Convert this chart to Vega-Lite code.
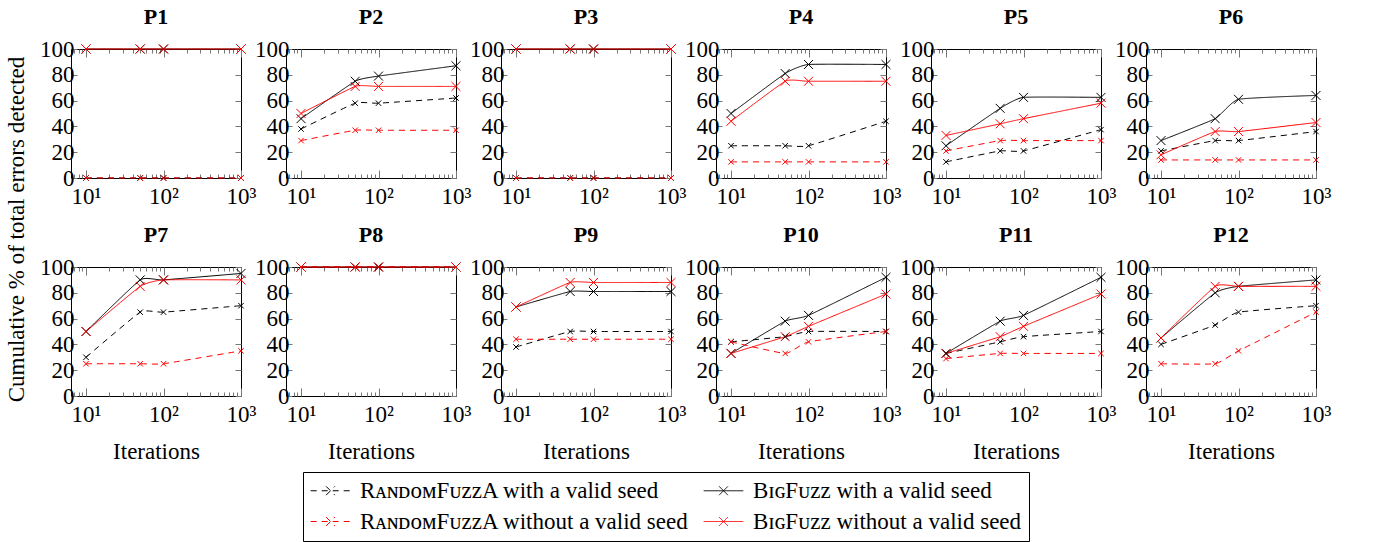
{
  "$schema": "https://vega.github.io/schema/vega-lite/v6.json",
  "padding": 5,
  "config": {
    "font": "Liberation Serif",
    "view": {"stroke": "black", "strokeWidth": 1},
    "axis": {"labelFont": "Liberation Serif", "titleFont": "Liberation Serif", "labelFontSize": 23, "titleFontSize": 23, "labelColor": "black", "titleColor": "black", "grid": false, "domain": false, "tickColor": "#777", "titleFontWeight": "normal"},
    "header": {"labelFont": "Liberation Serif", "labelFontSize": 22, "labelFontWeight": "bold", "labelColor": "black", "labelPadding": 9},
    "legend": {"labelFont": "Liberation Serif", "labelFontSize": 23, "labelColor": "black"}
  },
  "datasets": {
    "d": [
      {"p":"P1","it":10,"s":"ra_v","v":0},{"p":"P1","it":50,"s":"ra_v","v":0},{"p":"P1","it":100,"s":"ra_v","v":0},{"p":"P1","it":1000,"s":"ra_v","v":0},
      {"p":"P1","it":10,"s":"bf_v","v":100},{"p":"P1","it":50,"s":"bf_v","v":100},{"p":"P1","it":100,"s":"bf_v","v":100},{"p":"P1","it":1000,"s":"bf_v","v":100},
      {"p":"P1","it":10,"s":"ra_n","v":0},{"p":"P1","it":50,"s":"ra_n","v":0},{"p":"P1","it":100,"s":"ra_n","v":0},{"p":"P1","it":1000,"s":"ra_n","v":0},
      {"p":"P1","it":10,"s":"bf_n","v":100},{"p":"P1","it":50,"s":"bf_n","v":100},{"p":"P1","it":100,"s":"bf_n","v":100},{"p":"P1","it":1000,"s":"bf_n","v":100},

      {"p":"P2","it":10,"s":"ra_v","v":38},{"p":"P2","it":50,"s":"ra_v","v":58},{"p":"P2","it":100,"s":"ra_v","v":58},{"p":"P2","it":1000,"s":"ra_v","v":62},
      {"p":"P2","it":10,"s":"bf_v","v":46},{"p":"P2","it":50,"s":"bf_v","v":75},{"p":"P2","it":100,"s":"bf_v","v":79},{"p":"P2","it":1000,"s":"bf_v","v":87},
      {"p":"P2","it":10,"s":"ra_n","v":29},{"p":"P2","it":50,"s":"ra_n","v":37},{"p":"P2","it":100,"s":"ra_n","v":37},{"p":"P2","it":1000,"s":"ra_n","v":37},
      {"p":"P2","it":10,"s":"bf_n","v":50},{"p":"P2","it":50,"s":"bf_n","v":71},{"p":"P2","it":100,"s":"bf_n","v":71},{"p":"P2","it":1000,"s":"bf_n","v":71},

      {"p":"P3","it":10,"s":"ra_v","v":0},{"p":"P3","it":50,"s":"ra_v","v":0},{"p":"P3","it":100,"s":"ra_v","v":0},{"p":"P3","it":1000,"s":"ra_v","v":0},
      {"p":"P3","it":10,"s":"bf_v","v":100},{"p":"P3","it":50,"s":"bf_v","v":100},{"p":"P3","it":100,"s":"bf_v","v":100},{"p":"P3","it":1000,"s":"bf_v","v":100},
      {"p":"P3","it":10,"s":"ra_n","v":0},{"p":"P3","it":50,"s":"ra_n","v":0},{"p":"P3","it":100,"s":"ra_n","v":0},{"p":"P3","it":1000,"s":"ra_n","v":0},
      {"p":"P3","it":10,"s":"bf_n","v":100},{"p":"P3","it":50,"s":"bf_n","v":100},{"p":"P3","it":100,"s":"bf_n","v":100},{"p":"P3","it":1000,"s":"bf_n","v":100},

      {"p":"P4","it":10,"s":"ra_v","v":25},{"p":"P4","it":50,"s":"ra_v","v":25},{"p":"P4","it":100,"s":"ra_v","v":25},{"p":"P4","it":1000,"s":"ra_v","v":44},
      {"p":"P4","it":10,"s":"bf_v","v":50},{"p":"P4","it":50,"s":"bf_v","v":81},{"p":"P4","it":100,"s":"bf_v","v":88},{"p":"P4","it":1000,"s":"bf_v","v":88},
      {"p":"P4","it":10,"s":"ra_n","v":12.5},{"p":"P4","it":50,"s":"ra_n","v":12.5},{"p":"P4","it":100,"s":"ra_n","v":12.5},{"p":"P4","it":1000,"s":"ra_n","v":12.5},
      {"p":"P4","it":10,"s":"bf_n","v":44},{"p":"P4","it":50,"s":"bf_n","v":75},{"p":"P4","it":100,"s":"bf_n","v":75},{"p":"P4","it":1000,"s":"bf_n","v":75},

      {"p":"P5","it":10,"s":"ra_v","v":12.5},{"p":"P5","it":50,"s":"ra_v","v":21},{"p":"P5","it":100,"s":"ra_v","v":21},{"p":"P5","it":1000,"s":"ra_v","v":37.5},
      {"p":"P5","it":10,"s":"bf_v","v":25},{"p":"P5","it":50,"s":"bf_v","v":54},{"p":"P5","it":100,"s":"bf_v","v":62.5},{"p":"P5","it":1000,"s":"bf_v","v":62.5},
      {"p":"P5","it":10,"s":"ra_n","v":21},{"p":"P5","it":50,"s":"ra_n","v":29},{"p":"P5","it":100,"s":"ra_n","v":29},{"p":"P5","it":1000,"s":"ra_n","v":29},
      {"p":"P5","it":10,"s":"bf_n","v":33},{"p":"P5","it":50,"s":"bf_n","v":42},{"p":"P5","it":100,"s":"bf_n","v":46},{"p":"P5","it":1000,"s":"bf_n","v":58},

      {"p":"P6","it":10,"s":"ra_v","v":21},{"p":"P6","it":50,"s":"ra_v","v":29},{"p":"P6","it":100,"s":"ra_v","v":29},{"p":"P6","it":1000,"s":"ra_v","v":36},
      {"p":"P6","it":10,"s":"bf_v","v":29},{"p":"P6","it":50,"s":"bf_v","v":46},{"p":"P6","it":100,"s":"bf_v","v":61},{"p":"P6","it":1000,"s":"bf_v","v":64},
      {"p":"P6","it":10,"s":"ra_n","v":14},{"p":"P6","it":50,"s":"ra_n","v":14},{"p":"P6","it":100,"s":"ra_n","v":14},{"p":"P6","it":1000,"s":"ra_n","v":14},
      {"p":"P6","it":10,"s":"bf_n","v":18},{"p":"P6","it":50,"s":"bf_n","v":36},{"p":"P6","it":100,"s":"bf_n","v":36},{"p":"P6","it":1000,"s":"bf_n","v":43},

      {"p":"P7","it":10,"s":"ra_v","v":30},{"p":"P7","it":50,"s":"ra_v","v":65},{"p":"P7","it":100,"s":"ra_v","v":65},{"p":"P7","it":1000,"s":"ra_v","v":70},
      {"p":"P7","it":10,"s":"bf_v","v":50},{"p":"P7","it":50,"s":"bf_v","v":90},{"p":"P7","it":100,"s":"bf_v","v":90},{"p":"P7","it":1000,"s":"bf_v","v":95},
      {"p":"P7","it":10,"s":"ra_n","v":25},{"p":"P7","it":50,"s":"ra_n","v":25},{"p":"P7","it":100,"s":"ra_n","v":25},{"p":"P7","it":1000,"s":"ra_n","v":35},
      {"p":"P7","it":10,"s":"bf_n","v":50},{"p":"P7","it":50,"s":"bf_n","v":85},{"p":"P7","it":100,"s":"bf_n","v":90},{"p":"P7","it":1000,"s":"bf_n","v":90},

      {"p":"P8","it":10,"s":"ra_v","v":100},{"p":"P8","it":50,"s":"ra_v","v":100},{"p":"P8","it":100,"s":"ra_v","v":100},{"p":"P8","it":1000,"s":"ra_v","v":100},
      {"p":"P8","it":10,"s":"bf_v","v":100},{"p":"P8","it":50,"s":"bf_v","v":100},{"p":"P8","it":100,"s":"bf_v","v":100},{"p":"P8","it":1000,"s":"bf_v","v":100},
      {"p":"P8","it":10,"s":"ra_n","v":100},{"p":"P8","it":50,"s":"ra_n","v":100},{"p":"P8","it":100,"s":"ra_n","v":100},{"p":"P8","it":1000,"s":"ra_n","v":100},
      {"p":"P8","it":10,"s":"bf_n","v":100},{"p":"P8","it":50,"s":"bf_n","v":100},{"p":"P8","it":100,"s":"bf_n","v":100},{"p":"P8","it":1000,"s":"bf_n","v":100},

      {"p":"P9","it":10,"s":"ra_v","v":38},{"p":"P9","it":50,"s":"ra_v","v":50},{"p":"P9","it":100,"s":"ra_v","v":50},{"p":"P9","it":1000,"s":"ra_v","v":50},
      {"p":"P9","it":10,"s":"bf_v","v":69},{"p":"P9","it":50,"s":"bf_v","v":81},{"p":"P9","it":100,"s":"bf_v","v":81},{"p":"P9","it":1000,"s":"bf_v","v":81},
      {"p":"P9","it":10,"s":"ra_n","v":44},{"p":"P9","it":50,"s":"ra_n","v":44},{"p":"P9","it":100,"s":"ra_n","v":44},{"p":"P9","it":1000,"s":"ra_n","v":44},
      {"p":"P9","it":10,"s":"bf_n","v":69},{"p":"P9","it":50,"s":"bf_n","v":88},{"p":"P9","it":100,"s":"bf_n","v":88},{"p":"P9","it":1000,"s":"bf_n","v":88},

      {"p":"P10","it":10,"s":"ra_v","v":42},{"p":"P10","it":50,"s":"ra_v","v":46},{"p":"P10","it":100,"s":"ra_v","v":50},{"p":"P10","it":1000,"s":"ra_v","v":50},
      {"p":"P10","it":10,"s":"bf_v","v":33},{"p":"P10","it":50,"s":"bf_v","v":58},{"p":"P10","it":100,"s":"bf_v","v":62.5},{"p":"P10","it":1000,"s":"bf_v","v":92},
      {"p":"P10","it":10,"s":"ra_n","v":42},{"p":"P10","it":50,"s":"ra_n","v":33},{"p":"P10","it":100,"s":"ra_n","v":42},{"p":"P10","it":1000,"s":"ra_n","v":50},
      {"p":"P10","it":10,"s":"bf_n","v":33},{"p":"P10","it":50,"s":"bf_n","v":46},{"p":"P10","it":100,"s":"bf_n","v":54},{"p":"P10","it":1000,"s":"bf_n","v":79},

      {"p":"P11","it":10,"s":"ra_v","v":33},{"p":"P11","it":50,"s":"ra_v","v":42},{"p":"P11","it":100,"s":"ra_v","v":46},{"p":"P11","it":1000,"s":"ra_v","v":50},
      {"p":"P11","it":10,"s":"bf_v","v":33},{"p":"P11","it":50,"s":"bf_v","v":58},{"p":"P11","it":100,"s":"bf_v","v":62.5},{"p":"P11","it":1000,"s":"bf_v","v":92},
      {"p":"P11","it":10,"s":"ra_n","v":29},{"p":"P11","it":50,"s":"ra_n","v":33},{"p":"P11","it":100,"s":"ra_n","v":33},{"p":"P11","it":1000,"s":"ra_n","v":33},
      {"p":"P11","it":10,"s":"bf_n","v":33},{"p":"P11","it":50,"s":"bf_n","v":46},{"p":"P11","it":100,"s":"bf_n","v":54},{"p":"P11","it":1000,"s":"bf_n","v":79},

      {"p":"P12","it":10,"s":"ra_v","v":40},{"p":"P12","it":50,"s":"ra_v","v":55},{"p":"P12","it":100,"s":"ra_v","v":65},{"p":"P12","it":1000,"s":"ra_v","v":70},
      {"p":"P12","it":10,"s":"bf_v","v":45},{"p":"P12","it":50,"s":"bf_v","v":80},{"p":"P12","it":100,"s":"bf_v","v":85},{"p":"P12","it":1000,"s":"bf_v","v":90},
      {"p":"P12","it":10,"s":"ra_n","v":25},{"p":"P12","it":50,"s":"ra_n","v":25},{"p":"P12","it":100,"s":"ra_n","v":35},{"p":"P12","it":1000,"s":"ra_n","v":65},
      {"p":"P12","it":10,"s":"bf_n","v":45},{"p":"P12","it":50,"s":"bf_n","v":85},{"p":"P12","it":100,"s":"bf_n","v":85},{"p":"P12","it":1000,"s":"bf_n","v":85}
    ]
  },
  "hconcat": [
    {
      "data": {"values": [{}]},
      "width": 1,
      "height": 360,
      "view": {"stroke": null},
      "mark": {"type": "rule", "opacity": 0},
      "encoding": {
        "y": {"datum": 0, "type": "quantitative", "axis": {"title": "Cumulative % of total errors detected", "labels": false, "ticks": false, "domain": false, "titlePadding": 0}}
      }
    },
    {
      "vconcat": [
        {
          "data": {"name": "d"},
          "transform": [{"filter": "indexof(['P1','P2','P3','P4','P5','P6'], datum.p) >= 0"}],
          "facet": {"field": "p", "type": "nominal", "sort": ["P1","P2","P3","P4","P5","P6"], "header": {"title": null}},
          "columns": 6,
          "spacing": {"column": 45, "row": 0},
          "bounds": "flush",
          "resolve": {"axis": {"x": "independent", "y": "independent"}},
          "spec": {
            "width": 170,
            "height": 129,
            "resolve": {"axis": {"x": "independent", "y": "independent"}},
            "layer": [
              {
                "mark": {"type": "line", "interpolate": "cardinal", "tension": 0.6, "strokeWidth": 1, "clip": false},
                "encoding": {
                  "x": {"field": "it", "type": "quantitative", "scale": {"type": "log", "domain": [6.4, 1000], "nice": false},
                        "axis": {"title": null, "values": [7,8,9,10,20,30,40,50,60,70,80,90,100,200,300,400,500,600,700,800,900,1000],
                                 "labelExpr": "datum.value == 10 ? '10¹' : datum.value == 100 ? '10²' : datum.value == 1000 ? '10³' : ''",
                                 "tickSize": {"condition": {"test": "datum.value == 10 || datum.value == 100 || datum.value == 1000", "value": -8}, "value": -4},
                                 "labelPadding": 15, "labelFlush": false, "labelOverlap": false}},
                  "y": {"field": "v", "type": "quantitative", "scale": {"domain": [0, 100], "nice": false},
                        "axis": {"title": null, "values": [0,20,40,60,80,100], "tickSize": -6, "labelPadding": 3, "labelFlush": false}},
                  "color": {"field": "s", "type": "nominal",
                            "scale": {"domain": ["ra_v","ra_n","bf_v","bf_n"], "range": ["black","#ff0000","black","#ff0000"]},
                            "legend": {"title": null, "orient": "none", "legendX": 275, "legendY": 423, "columns": 2, "strokeColor": "black", "padding": 7,
                                       "symbolType": "M-1.8,0L1.8,0M-0.4,-0.4L0.4,0.4M-0.4,0.4L0.4,-0.4", "symbolSize": 484, "symbolStrokeWidth": 1,
                                       "symbolOffset": 9, "labelOffset": 18,
                                       "labelLimit": 500, "columnPadding": 12, "rowPadding": 7,
                                       "labelExpr": "datum.value == 'ra_v' ? 'RᴀɴᴅᴏᴍFᴜᴢᴢA with a valid seed' : datum.value == 'bf_v' ? 'BɪɢFᴜᴢᴢ with a valid seed' : datum.value == 'ra_n' ? 'RᴀɴᴅᴏᴍFᴜᴢᴢA without a valid seed' : 'BɪɢFᴜᴢᴢ without a valid seed'"}},
                  "strokeDash": {"field": "s", "type": "nominal",
                                 "scale": {"domain": ["ra_v","ra_n","bf_v","bf_n"], "range": [[6,5],[6,5],[1,0],[1,0]]},
                                 "legend": {"title": null, "orient": "none", "legendX": 275, "legendY": 423, "columns": 2,
                                            "symbolType": "M-1.8,0L1.8,0M-0.4,-0.4L0.4,0.4M-0.4,0.4L0.4,-0.4", "symbolSize": 484,
                                            "labelExpr": "datum.value == 'ra_v' ? 'RᴀɴᴅᴏᴍFᴜᴢᴢA with a valid seed' : datum.value == 'bf_v' ? 'BɪɢFᴜᴢᴢ with a valid seed' : datum.value == 'ra_n' ? 'RᴀɴᴅᴏᴍFᴜᴢᴢA without a valid seed' : 'BɪɢFᴜᴢᴢ without a valid seed'"}}
                }
              },
              {
                "transform": [{"filter": "datum.s == 'bf_v' || datum.s == 'bf_n'"}],
                "mark": {"type": "point", "shape": "M-1,-1L1,1M-1,1L1,-1", "filled": false, "size": 80, "strokeWidth": 1, "opacity": 1, "clip": false},
                "encoding": {
                  "x": {"field": "it", "type": "quantitative", "scale": {"type": "log", "domain": [6.4, 1000], "nice": false},
                        "axis": {"orient": "top", "title": null, "labels": false, "values": [7,8,9,10,20,30,40,50,60,70,80,90,100,200,300,400,500,600,700,800,900,1000],
                                 "tickSize": {"condition": {"test": "datum.value == 10 || datum.value == 100 || datum.value == 1000", "value": -8}, "value": -4}}},
                  "y": {"field": "v", "type": "quantitative", "scale": {"domain": [0, 100], "nice": false},
                        "axis": {"orient": "right", "title": null, "labels": false, "values": [0,20,40,60,80,100], "tickSize": -6}},
                  "color": {"field": "s", "type": "nominal", "scale": {"domain": ["ra_v","ra_n","bf_v","bf_n"], "range": ["black","#ff0000","black","#ff0000"]}, "legend": null}
                }
              },
              {
                "transform": [{"filter": "datum.s == 'ra_v' || datum.s == 'ra_n'"}],
                "mark": {"type": "point", "shape": "M-1,-1L1,1M-1,1L1,-1", "filled": false, "size": 30, "strokeWidth": 1, "opacity": 1, "clip": false},
                "encoding": {
                  "x": {"field": "it", "type": "quantitative", "axis": null},
                  "y": {"field": "v", "type": "quantitative", "axis": null},
                  "color": {"field": "s", "type": "nominal", "scale": {"domain": ["ra_v","ra_n","bf_v","bf_n"], "range": ["black","#ff0000","black","#ff0000"]}, "legend": null}
                }
              }
            ]
          }
        },
        {
          "data": {"name": "d"},
          "transform": [{"filter": "indexof(['P7','P8','P9','P10','P11','P12'], datum.p) >= 0"}],
          "facet": {"field": "p", "type": "nominal", "sort": ["P7","P8","P9","P10","P11","P12"], "header": {"title": null}},
          "columns": 6,
          "spacing": {"column": 45, "row": 0},
          "bounds": "flush",
          "resolve": {"axis": {"x": "independent", "y": "independent"}},
          "spec": {
            "width": 170,
            "height": 129,
            "resolve": {"axis": {"x": "independent", "y": "independent"}},
            "layer": [
              {
                "mark": {"type": "line", "interpolate": "cardinal", "tension": 0.6, "strokeWidth": 1, "clip": false},
                "encoding": {
                  "x": {"field": "it", "type": "quantitative", "scale": {"type": "log", "domain": [6.4, 1000], "nice": false},
                        "axis": {"title": "Iterations", "titlePadding": 10, "values": [7,8,9,10,20,30,40,50,60,70,80,90,100,200,300,400,500,600,700,800,900,1000],
                                 "labelExpr": "datum.value == 10 ? '10¹' : datum.value == 100 ? '10²' : datum.value == 1000 ? '10³' : ''",
                                 "tickSize": {"condition": {"test": "datum.value == 10 || datum.value == 100 || datum.value == 1000", "value": -8}, "value": -4},
                                 "labelPadding": 15, "labelFlush": false, "labelOverlap": false}},
                  "y": {"field": "v", "type": "quantitative", "scale": {"domain": [0, 100], "nice": false},
                        "axis": {"title": null, "values": [0,20,40,60,80,100], "tickSize": -6, "labelPadding": 3, "labelFlush": false}},
                  "color": {"field": "s", "type": "nominal",
                            "scale": {"domain": ["ra_v","ra_n","bf_v","bf_n"], "range": ["black","#ff0000","black","#ff0000"]}},
                  "strokeDash": {"field": "s", "type": "nominal",
                                 "scale": {"domain": ["ra_v","ra_n","bf_v","bf_n"], "range": [[6,5],[6,5],[1,0],[1,0]]}}
                }
              },
              {
                "transform": [{"filter": "datum.s == 'bf_v' || datum.s == 'bf_n'"}],
                "mark": {"type": "point", "shape": "M-1,-1L1,1M-1,1L1,-1", "filled": false, "size": 80, "strokeWidth": 1, "opacity": 1, "clip": false},
                "encoding": {
                  "x": {"field": "it", "type": "quantitative", "scale": {"type": "log", "domain": [6.4, 1000], "nice": false},
                        "axis": {"orient": "top", "title": null, "labels": false, "values": [7,8,9,10,20,30,40,50,60,70,80,90,100,200,300,400,500,600,700,800,900,1000],
                                 "tickSize": {"condition": {"test": "datum.value == 10 || datum.value == 100 || datum.value == 1000", "value": -8}, "value": -4}}},
                  "y": {"field": "v", "type": "quantitative", "scale": {"domain": [0, 100], "nice": false},
                        "axis": {"orient": "right", "title": null, "labels": false, "values": [0,20,40,60,80,100], "tickSize": -6}},
                  "color": {"field": "s", "type": "nominal", "scale": {"domain": ["ra_v","ra_n","bf_v","bf_n"], "range": ["black","#ff0000","black","#ff0000"]}, "legend": null}
                }
              },
              {
                "transform": [{"filter": "datum.s == 'ra_v' || datum.s == 'ra_n'"}],
                "mark": {"type": "point", "shape": "M-1,-1L1,1M-1,1L1,-1", "filled": false, "size": 30, "strokeWidth": 1, "opacity": 1, "clip": false},
                "encoding": {
                  "x": {"field": "it", "type": "quantitative", "axis": null},
                  "y": {"field": "v", "type": "quantitative", "axis": null},
                  "color": {"field": "s", "type": "nominal", "scale": {"domain": ["ra_v","ra_n","bf_v","bf_n"], "range": ["black","#ff0000","black","#ff0000"]}, "legend": null}
                }
              }
            ]
          }
        }
      ],
      "spacing": 10
    }
  ],
  "spacing": 10
}
